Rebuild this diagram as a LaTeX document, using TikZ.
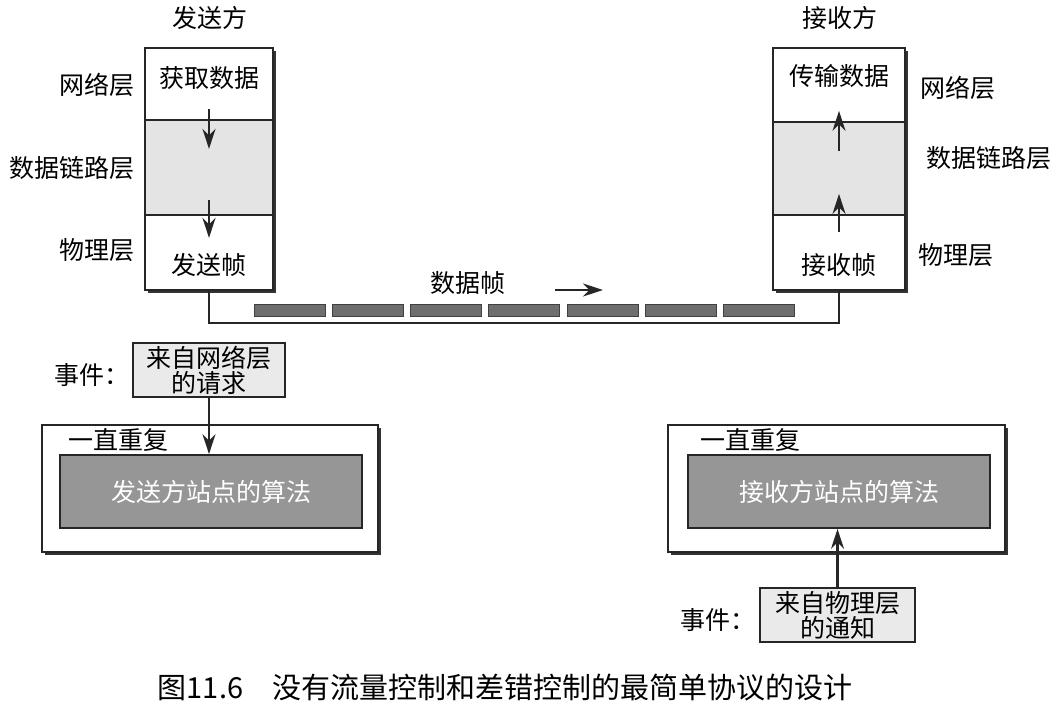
\documentclass[tikz,border=0pt]{standalone}
\usepackage{fontspec}
\setmainfont{Noto Sans CJK SC}
\usetikzlibrary{arrows.meta,positioning,shadows}
\definecolor{layergray}{RGB}{228,228,228}
\definecolor{framegray}{RGB}{110,110,110}
\definecolor{algogray}{RGB}{150,150,150}
\definecolor{eventgray}{RGB}{234,234,234}
\tikzset{
    % one layer of a station's stack
    cell/.style={
        draw=black!85, fill=white, line width=0.9pt,
        minimum width=64pt, inner sep=0pt
    },
    datacell/.style={cell, fill=layergray},
    % plain texts
    lbl/.style={font=\fontsize{12.5}{13}\selectfont, inner sep=1pt},
    % event and loop boxes
    eventbox/.style={
        draw=black!85, fill=eventgray, line width=0.9pt,
        minimum width=76pt, minimum height=27pt, inner sep=0pt,
        align=center, font=\fontsize{12.5}{12.5}\selectfont
    },
    loopbox/.style={
        draw=black!85, fill=white, line width=0.9pt,
        minimum width=168pt, minimum height=63.5pt, inner sep=0pt,
        drop shadow={shadow xshift=1.5pt, shadow yshift=-1.5pt, fill=black!80, opacity=1}
    },
    algobox/.style={
        draw=black!85, fill=algogray, line width=0.9pt, text=white,
        minimum width=151pt, minimum height=36.5pt, inner sep=0pt,
        font=\fontsize{12.5}{13}\selectfont
    },
    dataframe/.style={
        draw=black!75, fill=framegray, line width=0.5pt,
        minimum width=35.5pt, minimum height=6pt, inner sep=0pt
    },
    flow/.style={line width=1.1pt, black!85, -{Stealth[length=10pt,width=6.5pt]}},
    link/.style={line width=1.1pt, black!85},
}

\begin{document}
\begin{tikzpicture}[x=0.5pt,y=-0.5pt]
  \useasboundingbox (0,0) rectangle (1064,706);

  % --- sender stack ---
  \fill[black!80] (148,51) rectangle (276,293);
  \node[cell, minimum height=36pt] (ltop) at (209,84) {};
  \node[datacell, minimum height=47.5pt] (lmid) at (209,167.5) {};
  \node[cell, minimum height=37.5pt] (lbot) at (209,252.5) {};
  \node[lbl] (lget) at (209,78) {获取数据};
  \node[lbl] (lsend) at (209,265) {发送帧};
  \node[lbl] (lname) at (210,18) {发送方};
  \node[lbl, anchor=east] (lnet) at (137,85) {网络层};
  \node[lbl, anchor=east] (ldll) at (137,168) {数据链路层};
  \node[lbl, anchor=east] (lphy) at (137,250) {物理层};
  \draw[flow] ([yshift=6pt]ltop.south) -- ([yshift=-14pt]ltop.south);
  \draw[flow] ([yshift=8pt]lmid.south) -- ([yshift=-11pt]lmid.south);

  % --- receiver stack ---
  \fill[black!80] (776,51) rectangle (908,293);
  \node[cell, minimum width=66pt, minimum height=37pt] (rtop) at (839,85) {};
  \node[datacell, minimum width=66pt, minimum height=46.5pt] (rmid) at (839,168.5) {};
  \node[cell, minimum width=66pt, minimum height=37.5pt] (rbot) at (839,252.5) {};
  \node[lbl] (rpass) at (839,76) {传输数据};
  \node[lbl] (rrecv) at (839,265) {接收帧};
  \node[lbl] (rname) at (840,18) {接收方};
  \node[lbl, anchor=west] (rnet) at (918,88) {网络层};
  \node[lbl, anchor=west] (rdll) at (924,158) {数据链路层};
  \node[lbl, anchor=west] (rphy) at (916,255) {物理层};
  \draw[flow] ([yshift=-14pt]rtop.south) -- ([yshift=6pt]rtop.south);
  \draw[flow] ([yshift=-8pt]rmid.south) -- ([yshift=11pt]rmid.south);

  % --- link with frames ---
  \draw[link] (lbot.south) -- ++(0,32) -| (rbot.south);
  \foreach \i in {0,...,6}{\node[dataframe] (f\i) at (289.5+78.3*\i,310.5) {};}
  \node[lbl] (ftext) at (468,283) {数据帧};
  \coordinate (dirA) at (555,290);
  \coordinate (dirB) at (603,290);
  \draw[flow] (dirA) -- (dirB);

  % --- sender algorithm ---
  \node[eventbox] (levent) at (209,370) {来自网络层\\的请求};
  \node[lbl, anchor=east] (lev) at (132,375) {事件：};
  \node[loopbox] (lloop) at (210,488.5) {};
  \node[algobox] (lalgo) at (211,491.5) {发送方站点的算法};
  \node[lbl, anchor=west] (lrep) at (66,440) {一直重复};
  \draw[flow] (levent.south) -- (levent.south |- lalgo.north);

  % --- receiver algorithm ---
  \node[loopbox, minimum width=168.5pt] (rloop) at (836.5,488.5) {};
  \node[algobox] (ralgo) at (839,491.5) {接收方站点的算法};
  \node[lbl, anchor=west] (rrep) at (698,440) {一直重复};
  \node[eventbox, minimum width=77.5pt] (revent) at (837.5,615) {来自物理层\\的通知};
  \node[lbl, anchor=east] (rev) at (758,620) {事件：};
  \draw[flow] (revent.north) -- (revent.north |- ralgo.south);

  % caption
  \node[font=\fontsize{14.5}{15}\selectfont] (cap) at (505,688) {图11.6\quad 没有流量控制和差错控制的最简单协议的设计};
\end{tikzpicture}
\end{document}
